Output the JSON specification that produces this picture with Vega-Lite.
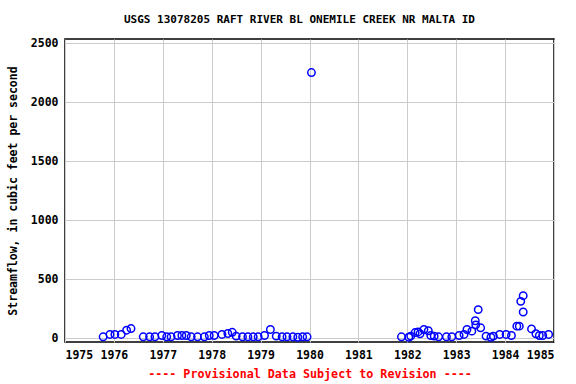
{
  "$schema": "https://vega.github.io/schema/vega-lite/v6.json",
  "autosize": {"type": "none"},
  "padding": {"left": 65, "top": 39, "right": 22, "bottom": 42},
  "width": 489,
  "height": 303,
  "background": "white",
  "title": {
    "text": "USGS 13078205 RAFT RIVER BL ONEMILE CREEK NR MALTA ID",
    "font": "DejaVu Sans Mono",
    "fontSize": 11,
    "fontWeight": "bold",
    "color": "black",
    "anchor": "middle",
    "offset": 12,
    "dx": -10
  },
  "config": {
    "view": {"stroke": "black", "strokeWidth": 1.5},
    "axis": {
      "labelFont": "DejaVu Sans Mono",
      "labelFontWeight": "bold",
      "labelFontSize": 11.5,
      "labelColor": "black",
      "titleFont": "DejaVu Sans Mono",
      "titleFontWeight": "bold",
      "gridColor": "#cccccc",
      "gridWidth": 1,
      "domain": false,
      "ticks": false
    }
  },
  "data": {
    "values": [
      {"year": 1975.78, "flow": 14},
      {"year": 1975.92, "flow": 34},
      {"year": 1976.02, "flow": 34},
      {"year": 1976.15, "flow": 34},
      {"year": 1976.26, "flow": 70},
      {"year": 1976.35, "flow": 84},
      {"year": 1976.60, "flow": 14},
      {"year": 1976.73, "flow": 14},
      {"year": 1976.84, "flow": 14},
      {"year": 1976.98, "flow": 25},
      {"year": 1977.08, "flow": 14},
      {"year": 1977.17, "flow": 14},
      {"year": 1977.30, "flow": 25},
      {"year": 1977.39, "flow": 25},
      {"year": 1977.48, "flow": 25},
      {"year": 1977.58, "flow": 14},
      {"year": 1977.71, "flow": 14},
      {"year": 1977.85, "flow": 14},
      {"year": 1977.95, "flow": 25},
      {"year": 1978.05, "flow": 25},
      {"year": 1978.21, "flow": 34},
      {"year": 1978.33, "flow": 42},
      {"year": 1978.42, "flow": 52},
      {"year": 1978.50, "flow": 20},
      {"year": 1978.63, "flow": 14},
      {"year": 1978.74, "flow": 14},
      {"year": 1978.85, "flow": 14},
      {"year": 1978.95, "flow": 14},
      {"year": 1979.08, "flow": 25},
      {"year": 1979.20, "flow": 76},
      {"year": 1979.32, "flow": 20},
      {"year": 1979.44, "flow": 14},
      {"year": 1979.54, "flow": 14},
      {"year": 1979.66, "flow": 14},
      {"year": 1979.76, "flow": 10},
      {"year": 1979.86, "flow": 14},
      {"year": 1979.95, "flow": 14},
      {"year": 1980.04, "flow": 2250},
      {"year": 1981.88, "flow": 14},
      {"year": 1982.03, "flow": 10},
      {"year": 1982.07, "flow": 20},
      {"year": 1982.16, "flow": 50},
      {"year": 1982.22, "flow": 55},
      {"year": 1982.26, "flow": 40},
      {"year": 1982.34, "flow": 76},
      {"year": 1982.43, "flow": 65},
      {"year": 1982.48, "flow": 25},
      {"year": 1982.55, "flow": 20},
      {"year": 1982.64, "flow": 14},
      {"year": 1982.80, "flow": 14},
      {"year": 1982.91, "flow": 14},
      {"year": 1983.06, "flow": 25},
      {"year": 1983.16, "flow": 34},
      {"year": 1983.22, "flow": 76},
      {"year": 1983.32, "flow": 62},
      {"year": 1983.39, "flow": 150},
      {"year": 1983.40, "flow": 115},
      {"year": 1983.45, "flow": 244},
      {"year": 1983.50, "flow": 90},
      {"year": 1983.61, "flow": 20},
      {"year": 1983.71, "flow": 10},
      {"year": 1983.76, "flow": 20},
      {"year": 1983.89, "flow": 34},
      {"year": 1984.02, "flow": 34},
      {"year": 1984.13, "flow": 25},
      {"year": 1984.24, "flow": 104},
      {"year": 1984.29, "flow": 104},
      {"year": 1984.32, "flow": 314},
      {"year": 1984.37, "flow": 362},
      {"year": 1984.37, "flow": 224},
      {"year": 1984.54, "flow": 81},
      {"year": 1984.63, "flow": 40},
      {"year": 1984.70, "flow": 25},
      {"year": 1984.77, "flow": 25},
      {"year": 1984.89, "flow": 34}
    ]
  },
  "mark": {"type": "point", "shape": "circle", "filled": false, "color": "blue", "opacity": 1, "size": 55, "strokeWidth": 1.5},
  "encoding": {
    "x": {
      "field": "year",
      "type": "quantitative",
      "scale": {"domain": [1975, 1985], "nice": false, "zero": false},
      "axis": {
        "values": [1975, 1976, 1977, 1978, 1979, 1980, 1981, 1982, 1983, 1984, 1985],
        "format": "d",
        "labelPadding": 7,
        "title": "---- Provisional Data Subject to Revision ----",
        "titleColor": "red",
        "titleFontSize": 11.7,
        "titlePadding": 8
      }
    },
    "y": {
      "field": "flow",
      "type": "quantitative",
      "scale": {"domain": [-30, 2534], "nice": false, "zero": false},
      "axis": {
        "values": [0, 500, 1000, 1500, 2000, 2500],
        "format": "d",
        "labelPadding": 7,
        "title": "Streamflow, in cubic feet per second",
        "titleFontSize": 11.5,
        "titleColor": "black",
        "titlePadding": 12
      }
    }
  }
}
